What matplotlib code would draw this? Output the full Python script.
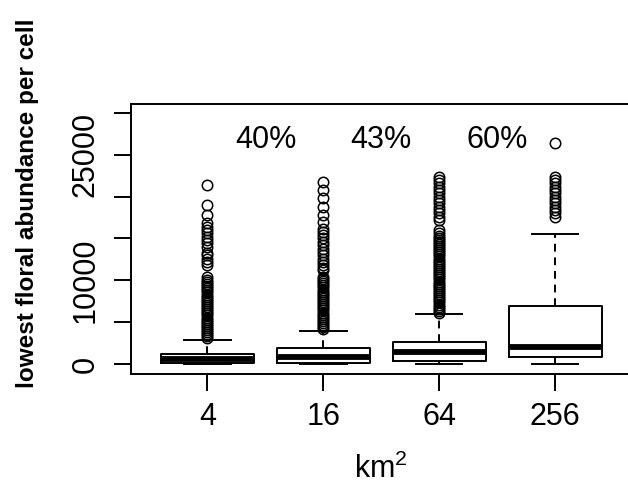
import matplotlib
matplotlib.use('Agg')
import matplotlib.pyplot as plt

plt.rcParams['font.family'] = ['Liberation Sans', 'DejaVu Sans']
plt.rcParams['mathtext.default'] = 'regular'

## values (box stats per cell size)
areas = ['4', '16', '64', '256']
whislo = [0, 0, 0, 0]
q1 = [60, 80, 400, 870]
med = [650, 870, 1400, 2070]
q3 = [1200, 1950, 2670, 6930]
whishi = [2900, 4000, 5975, 15540]

fliers_4 = [3050, 3300, 3550, 3800, 4050, 4300, 4550, 4800, 5050, 5300, 5550, 5800,
            6050, 6300, 6550, 6800, 7050, 7300, 7550, 7800, 8050, 8300, 8550, 8800,
            9050, 9300, 9550, 9800, 10050, 10400, 11850, 12200, 12600, 13000, 13250,
            14000, 14400, 14800, 15200, 15600, 16000, 16400, 16850, 17800, 19000, 21400]
fliers_16 = [4150, 4400, 4650, 4900, 5150, 5400, 5650, 5900, 6150, 6400, 6650, 6900,
             7150, 7400, 7650, 7900, 8150, 8400, 8650, 8900, 9150, 9400, 9650, 9900,
             10150, 10400, 11200, 11500, 11800, 12200, 12600, 13000, 13400, 13800,
             14200, 14600, 15000, 15400, 15800, 16100, 17000, 17800, 18800, 19800,
             20800, 21800]
fliers_64 = [6100, 6350, 6600, 6850, 7100, 7350, 7600, 7850, 8100, 8350, 8600, 8850,
             9100, 9350, 9600, 9850, 10100, 10350, 10600, 10850, 11100, 11350, 11600,
             11850, 12100, 12350, 12600, 12850, 13100, 13350, 13600, 13850, 14100,
             14350, 14600, 14850, 15100, 15350, 15600, 16000, 17200, 17600, 18000,
             18400, 18800, 19200, 19600, 20000, 20400, 20800, 21200, 21600, 22000, 22400]
fliers_256 = [17600, 18000, 18400, 18800, 19200, 19600, 20000, 20400, 20800, 21200,
              21600, 22000, 22400, 26400]
all_fliers = [fliers_4, fliers_16, fliers_64, fliers_256]

pct_labels = ['40%', '43%', '60%']
pct_x = [1.5, 2.5, 3.5]
pct_y = 26800

ytick_vals = [0, 5000, 10000, 15000, 20000, 25000, 30000]
ytick_labels = ['0', '', '10000', '', '', '25000', '']

stats = []
for i in range(len(areas)):
    stats.append({'whislo': whislo[i], 'q1': q1[i], 'med': med[i], 'q3': q3[i],
                  'whishi': whishi[i], 'fliers': all_fliers[i]})

fig = plt.figure(figsize=(6.28, 4.84), dpi=100)
# plot region runs past the right edge of the image (cropped like the original)
ax = fig.add_axes([131 / 628, 110 / 484, 569 / 628, 270 / 484])

lw = 1.4
ax.bxp(stats, positions=[1, 2, 3, 4], widths=0.8, capwidths=0.4,
       boxprops=dict(color='black', linewidth=lw),
       medianprops=dict(color='black', linewidth=4.2, solid_capstyle='butt'),
       whiskerprops=dict(color='black', linewidth=lw, linestyle=(0, (4, 3))),
       capprops=dict(color='black', linewidth=lw),
       flierprops=dict(marker='o', markerfacecolor='none', markeredgecolor='black',
                       markersize=7.5, markeredgewidth=1.1))

for lab, x in zip(pct_labels, pct_x):
    ax.text(x, pct_y, lab, ha='center', va='center', fontsize=22)

ax.set_xlim(0.34, 0.34 + 569 / 115.9)
ax.set_ylim(-1195, 31070)
ax.set_xticks([1, 2, 3, 4])
ax.set_xticklabels(areas)
ax.set_yticks(ytick_vals)
ax.set_yticklabels(ytick_labels, rotation=90, va='center')
ax.tick_params(axis='both', labelsize=22, length=12, width=1.4, direction='out')
ax.tick_params(axis='y', pad=10)
ax.tick_params(axis='x', pad=8)
for s in ax.spines.values():
    s.set_linewidth(1.4)
ax.spines['right'].set_visible(False)

fig.text(28 / 628, (484 - 203) / 484, 'lowest floral abundance per cell',
         rotation=90, ha='center', va='center', fontsize=17.5, fontweight='bold')
fig.text(381 / 628, (484 - 469) / 484, 'km$^2$', ha='center', va='center', fontsize=22)

fig.savefig('out.png', dpi=100)
